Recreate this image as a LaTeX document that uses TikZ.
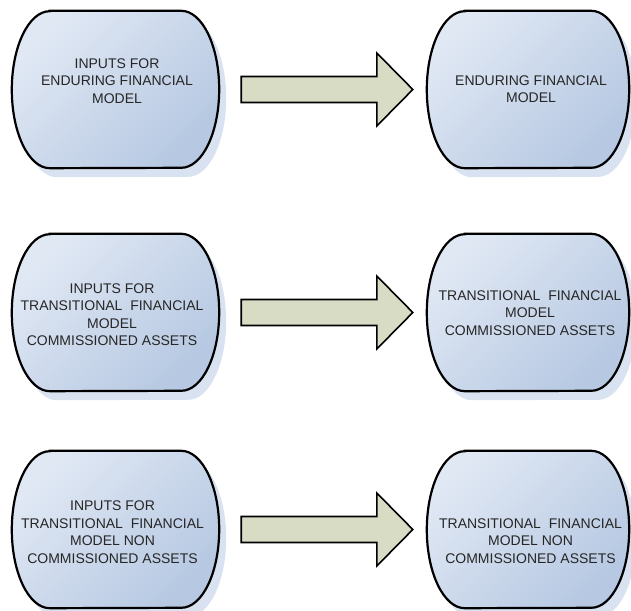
\documentclass[tikz,border=0pt]{standalone}
\usepackage{fontspec}
\setmainfont{Liberation Sans}
\usetikzlibrary{calc}
\definecolor{boxtop}{HTML}{E0E8F4}
\definecolor{boxbot}{HTML}{B6C8E2}
\definecolor{shadowc}{HTML}{D8E2F0}
\definecolor{arrowc}{HTML}{D8DCC4}
\definecolor{textc}{HTML}{262626}
\tikzset{
  termbox/.style={rectangle, draw=none, minimum width=#1, minimum height=157pt, inner sep=0pt},
  termshadow/.style={fill=shadowc},
  termbody/.style={top color=boxtop, bottom color=boxbot, shading angle=45, draw=black, line width=2.2pt},
  boxtext/.style={align=center, inner sep=0pt, text=textc, font=\fontsize{14}{17.5}\selectfont},
  blockarr/.style={fill=arrowc, draw=black, line width=1.6pt, line join=miter}
}
\newcommand\termdraw[1]{%
  \path[termshadow] ($(#1.north west)+(45pt,-9pt)$) -- ($(#1.north east)+(-31pt,-9pt)$)
    arc[start angle=90, end angle=-90, x radius=38pt, y radius=78.5pt]
    -- ($(#1.south west)+(45pt,-9pt)$)
    arc[start angle=270, end angle=90, x radius=38pt, y radius=78.5pt] -- cycle;
  \path[termbody] ($(#1.north west)+(38pt,0pt)$) -- ($(#1.north east)+(-38pt,0pt)$)
    arc[start angle=90, end angle=-90, x radius=38pt, y radius=78.5pt]
    -- ($(#1.south west)+(38pt,0pt)$)
    arc[start angle=270, end angle=90, x radius=38pt, y radius=78.5pt] -- cycle;
}
\newcommand\blockarrowdraw[2]{%
  \draw[blockarr] let \p1=($(#1.east)+(22pt,0pt)$), \p2=($(#2.west)+(-14pt,0pt)$) in
    (\x1,\y1+13pt) -- (\x2-36pt,\y1+13pt) -- (\x2-36pt,\y1+36.5pt) -- (\x2,\y1)
    -- (\x2-36pt,\y1-36.5pt) -- (\x2-36pt,\y1-13pt) -- (\x1,\y1-13pt) -- cycle;
}
\begin{document}
\begin{tikzpicture}[x=1pt,y=1pt]
\useasboundingbox (0,0) rectangle (631,610);
\fill[white] (0,0) rectangle (631,610);
% box nodes
\node[termbox=207pt] (L1) at (115.5,520.5) {};
\node[termbox=202pt] (R1) at (528,520.5) {};
\node[termbox=207pt] (L2) at (115.5,297.5) {};
\node[termbox=202pt] (R2) at (528,297.5) {};
\node[termbox=207pt] (L3) at (115.5,80.5) {};
\node[termbox=202pt] (R3) at (528,80.5) {};
\termdraw{L1}\termdraw{R1}
\termdraw{L2}\termdraw{R2}
\termdraw{L3}\termdraw{R3}
% texts
\node[boxtext] (L1t) at (117,529) {INPUTS FOR\\ENDURING FINANCIAL\\MODEL};
\node[boxtext] (R1t) at (531,521) {ENDURING FINANCIAL\\MODEL};
\node[boxtext] (L2t) at (112,295.5) {INPUTS FOR\\TRANSITIONAL\ \ FINANCIAL\\MODEL\\COMMISSIONED ASSETS};
\node[boxtext] (R2t) at (530,297) {TRANSITIONAL\ \ FINANCIAL\\MODEL\\COMMISSIONED ASSETS};
\node[boxtext] (L3t) at (112.5,78) {INPUTS FOR\\TRANSITIONAL\ \ FINANCIAL\\MODEL NON\\COMMISSIONED ASSETS};
\node[boxtext] (R3t) at (530.5,69) {TRANSITIONAL\ \ FINANCIAL\\MODEL NON\\COMMISSIONED ASSETS};
% arrows
\blockarrowdraw{L1}{R1}
\blockarrowdraw{L2}{R2}
\blockarrowdraw{L3}{R3}
\end{tikzpicture}
\end{document}
